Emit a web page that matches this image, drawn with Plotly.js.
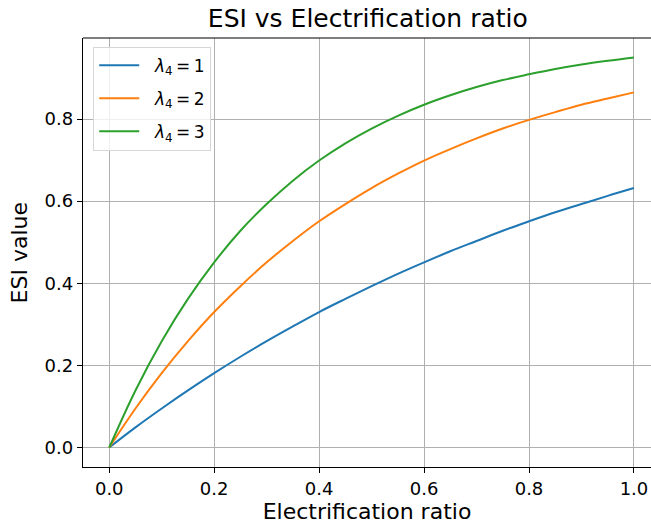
<!DOCTYPE html>
<html><head><meta charset="utf-8">
<script src="https://cdn.plot.ly/plotly-3.0.1.min.js"></script>
<style>html,body{margin:0;padding:0;background:#fff}#plot{width:651px;height:525px}</style>
</head><body><div id="plot"></div>
<script>
const ratio = [0,0.05,0.1,0.15,0.2,0.25,0.3,0.35,0.4,0.45,0.5,0.55,0.6,0.65,0.7,0.75,0.8,0.85,0.9,0.95,1.0];
const esiL1 = [0,0.049,0.095,0.139,0.181,0.221,0.259,0.295,0.330,0.362,0.393,0.423,0.451,0.478,0.503,0.528,0.551,0.573,0.593,0.613,0.632];
const esiL2 = [0,0.095,0.181,0.259,0.330,0.393,0.451,0.503,0.551,0.593,0.632,0.667,0.699,0.727,0.753,0.777,0.798,0.817,0.835,0.850,0.865];
const esiL3 = [0,0.139,0.259,0.362,0.451,0.528,0.593,0.650,0.699,0.741,0.777,0.808,0.835,0.858,0.878,0.895,0.909,0.922,0.933,0.942,0.950];
const lambdaValues = ['1','2','3'];
const names = lambdaValues.map(v=>'\u00a0\u00a0<i>λ</i><sub>4</sub>\u2009=\u2009'+v);
const colors = ['#1f77b4','#ff7f0e','#2ca02c'];
const series = [esiL1, esiL2, esiL3];
const traces = series.map((y,i)=>({x:ratio,y:y,type:'scatter',mode:'lines',name:names[i],legendgroup:'g'+i,
  line:{color:colors[i],width:2,shape:'spline'}}));
const font = 'DejaVu Sans, sans-serif';
const layout = {
  width:651,height:525,
  margin:{l:83,r:0,t:38,b:57.5},
  paper_bgcolor:'#fff',plot_bgcolor:'#fff',
  font:{family:font,color:'#000',size:18},
  title:{text:'ESI vs Electrification ratio',font:{size:25,family:font,color:'#000'},x:0.565,xanchor:'center',y:0.966,yanchor:'middle'},
  xaxis:{range:[-0.05,1.0325],tickvals:[0,0.2,0.4,0.6,0.8,1.0],ticktext:['0.0','0.2','0.4','0.6','0.8','1.0'],
    showgrid:true,gridcolor:'#b0b0b0',gridwidth:1,zeroline:false,showline:true,linecolor:'#000',linewidth:1.2,mirror:false,
    ticks:'outside',ticklen:5,tickcolor:'#000',tickfont:{size:18,family:font},
    title:{text:'Electrification ratio',font:{size:22,family:font},standoff:3}},
  yaxis:{range:[-0.0475,0.9975],tickvals:[0,0.2,0.4,0.6,0.8],ticktext:['0.0','0.2','0.4','0.6','0.8'],
    showgrid:true,gridcolor:'#b0b0b0',gridwidth:1,zeroline:false,showline:true,linecolor:'#000',linewidth:1.2,
    ticks:'outside',ticklen:5,tickcolor:'#000',tickfont:{size:18,family:font}},
  annotations:[{text:'ESI value',xref:'paper',yref:'paper',x:-0.111,y:0.5,xanchor:'center',yanchor:'middle',
    textangle:-90,showarrow:false,font:{size:22,family:font,color:'#000'}}],
  shapes:[{type:'line',xref:'paper',yref:'paper',x0:0,x1:1,y0:1,y1:1,line:{color:'#000',width:1.2}}],
  legend:{x:0.018,y:0.98,xanchor:'left',yanchor:'top',bgcolor:'rgba(255,255,255,0.8)',bordercolor:'#d6d6d6',borderwidth:1,
    font:{size:17,family:font},itemwidth:40,tracegroupgap:8},
  showlegend:true
};
Plotly.newPlot('plot',traces,layout,{displayModeBar:false,staticPlot:true});
</script></body></html>
